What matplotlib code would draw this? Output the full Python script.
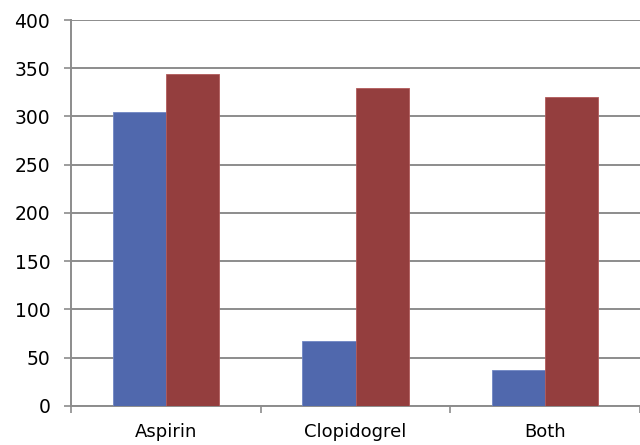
import matplotlib.pyplot as plt
import numpy as np

categories = ["Aspirin", "Clopidogrel", "Both"]
series_blue = [305, 67, 37]
series_red = [344, 330, 320]
y_ticks = [0, 50, 100, 150, 200, 250, 300, 350, 400]

plt.rcParams["font.family"] = ["DejaVu Sans"]

fig = plt.figure(figsize=(6.4, 4.45), dpi=100)
ax = fig.add_axes([0.111, 0.088, 0.889, 0.867])

x = np.arange(len(categories))
width = 0.28
grid_color = "#8c8c8c"

ax.bar(x - width / 2, series_blue, width, color="#5068ad", edgecolor="#6f86c4", linewidth=0.6, zorder=3)
ax.bar(x + width / 2, series_red, width, color="#943e3e", edgecolor="#b25a5a", linewidth=0.6, zorder=3)

ax.set_xlim(-0.5, len(categories) - 0.5)
ax.set_ylim(0, 400)
ax.set_yticks(y_ticks)
ax.yaxis.grid(True, color=grid_color, linewidth=1.4, zorder=0)
ax.set_axisbelow(True)

# boundaries between categories carry the ticks, names sit at the centres
ax.set_xticks(np.arange(len(categories) + 1) - 0.5)
ax.set_xticklabels([])
ax.set_xticks(x, minor=True)
ax.set_xticklabels(categories, minor=True, fontsize=13)
ax.tick_params(axis="x", which="major", direction="out", length=5, width=1.2, color=grid_color)
ax.tick_params(axis="x", which="minor", length=0, pad=12)
ax.tick_params(axis="y", direction="out", length=5, width=1.2, color=grid_color, labelsize=13.5, pad=10)

for side in ["top", "right"]:
    ax.spines[side].set_visible(False)
for side in ["left", "bottom"]:
    ax.spines[side].set_color(grid_color)
    ax.spines[side].set_linewidth(1.4)

fig.savefig("out.png", dpi=100)
